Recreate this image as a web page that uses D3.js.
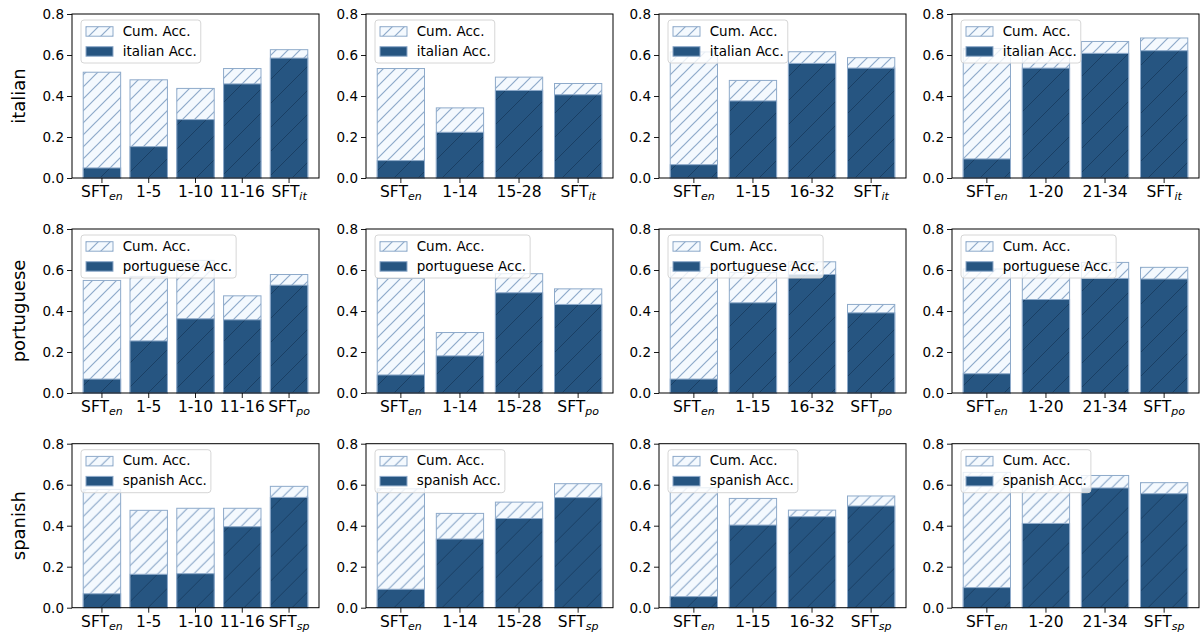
<!DOCTYPE html>
<html>
<head>
<meta charset="utf-8">
<script src="https://cdn.jsdelivr.net/npm/d3@7"></script>
<style>
  body { margin: 0; background: #fff; }
  svg { display: block; font-family: "DejaVu Sans", sans-serif; }
</style>
</head>
<body>
<div class="chart"></div>
<script>
// languages (rows) and their SFT subscripts
const languages = ["italian", "portuguese", "spanish"];
const langSubs = ["it", "po", "sp"];

// x categories for each column; "SFT_x" is replaced by the row language
const columnCats = [
  ["SFT_en", "1-5", "1-10", "11-16", "SFT_x"],
  ["SFT_en", "1-14", "15-28", "SFT_x"],
  ["SFT_en", "1-15", "16-32", "SFT_x"],
  ["SFT_en", "1-20", "21-34", "SFT_x"]
];

// cumulative accuracy (hatched, light) per column
const italianCum    = [[0.516, 0.479, 0.437, 0.534, 0.626], [0.534, 0.342, 0.492, 0.461], [0.615, 0.476, 0.616, 0.587], [0.632, 0.610, 0.666, 0.683]];
const portugueseCum = [[0.549, 0.569, 0.647, 0.474, 0.578], [0.559, 0.295, 0.582, 0.508], [0.613, 0.588, 0.640, 0.432], [0.605, 0.600, 0.637, 0.613]];
const spanishCum    = [[0.577, 0.475, 0.485, 0.485, 0.592], [0.580, 0.460, 0.515, 0.605], [0.585, 0.533, 0.476, 0.545], [0.660, 0.600, 0.645, 0.610]];

// language accuracy (dark) per column
const italianAcc    = [[0.049, 0.153, 0.285, 0.459, 0.585], [0.085, 0.223, 0.427, 0.406], [0.065, 0.376, 0.559, 0.536], [0.093, 0.536, 0.608, 0.621]];
const portugueseAcc = [[0.068, 0.254, 0.362, 0.357, 0.526], [0.088, 0.181, 0.489, 0.432], [0.068, 0.440, 0.578, 0.391], [0.094, 0.456, 0.559, 0.556]];
const spanishAcc    = [[0.068, 0.163, 0.166, 0.395, 0.538], [0.090, 0.335, 0.435, 0.537], [0.054, 0.403, 0.444, 0.496], [0.098, 0.411, 0.584, 0.556]];

const cumData = [italianCum, portugueseCum, spanishCum];
const accData = [italianAcc, portugueseAcc, spanishAcc];

const yTicks = [0, 0.2, 0.4, 0.6, 0.8];

// layout
const W = 1200, H = 638;
const colLeft = [72, 366, 659, 952];
const rowTop = [14, 229, 443.7];
const pw = 247, ph = 164;

const cumFill = "#f4f9fe", edgeCol = "#8eaaca", darkFill = "#265581";

const svg = d3.select(".chart").append("svg")
  .attr("width", W).attr("height", H);

// hatch patterns
const defs = svg.append("defs");
function hatch(id, size, bg, line, lw) {
  const p = defs.append("pattern").attr("id", id)
    .attr("patternUnits", "userSpaceOnUse")
    .attr("width", size).attr("height", size);
  p.append("rect").attr("width", size).attr("height", size).attr("fill", bg);
  p.append("path")
    .attr("d", `M0,${size} L${size},0 M${-size / 4},${size / 4} L${size / 4},${-size / 4} M${size * 3 / 4},${size * 5 / 4} L${size * 5 / 4},${size * 3 / 4}`)
    .attr("stroke", line).attr("stroke-width", lw).attr("fill", "none");
}
hatch("hCum", 12, cumFill, edgeCol, 1.2);
hatch("hAcc", 24, darkFill, "#1a3f64", 1);

const y = d3.scaleLinear().domain([0, 0.8]).range([ph, 0]);

function catLabel(sel, d, sub) {
  const lab = d === "SFT_x" ? "SFT_" + sub : d;
  const parts = lab.split("_");
  sel.text(null);
  sel.append("tspan").text(parts[0]);
  if (parts.length > 1) {
    sel.append("tspan").attr("font-style", "italic").attr("font-size", 11)
      .attr("dy", 3).text(parts[1]);
  }
}

languages.forEach((lang, r) => {
  // row label
  svg.append("text")
    .attr("transform", `translate(19,${rowTop[r] + ph / 2}) rotate(-90)`)
    .attr("text-anchor", "middle").attr("dy", "0.35em")
    .attr("font-size", 18).attr("fill", "#000")
    .text(lang);

  columnCats.forEach((cats, c) => {
    const n = cats.length;
    const g = svg.append("g").attr("transform", `translate(${colLeft[c]},${rowTop[r]})`);
    const x = d3.scaleBand().domain(d3.range(n)).range([0, pw])
      .paddingInner(0.2).paddingOuter(0.05 * (n - 0.2));

    const cum = cumData[r][c], acc = accData[r][c];

    g.selectAll(".cum").data(cum).enter().append("rect")
      .attr("class", "cum")
      .attr("x", (d, i) => x(i)).attr("width", x.bandwidth())
      .attr("y", d => y(d)).attr("height", d => ph - y(d))
      .attr("fill", "url(#hCum)").attr("stroke", edgeCol).attr("stroke-width", 1);

    g.selectAll(".acc").data(acc).enter().append("rect")
      .attr("class", "acc")
      .attr("x", (d, i) => x(i)).attr("width", x.bandwidth())
      .attr("y", d => y(d)).attr("height", d => ph - y(d))
      .attr("fill", "url(#hAcc)").attr("stroke", edgeCol).attr("stroke-width", 1);

    // axes
    const yAxis = g.append("g")
      .call(d3.axisLeft(y).tickValues(yTicks).tickFormat(d3.format(".1f")).tickSize(5).tickPadding(3));
    yAxis.selectAll("text").attr("font-size", 13.5).attr("fill", "#000")
      .attr("font-family", "DejaVu Sans, sans-serif");

    const xAxis = g.append("g").attr("transform", `translate(0,${ph})`)
      .call(d3.axisBottom(x).tickSize(5).tickPadding(3).tickFormat(i => cats[i]));
    xAxis.selectAll("text").attr("font-size", 15.5).attr("fill", "#000")
      .attr("font-family", "DejaVu Sans, sans-serif")
      .each(function (i) { catLabel(d3.select(this), cats[i], langSubs[r]); });

    [yAxis, xAxis].forEach(a => {
      a.select(".domain").remove();
      a.selectAll("line").attr("stroke", "#000").attr("stroke-width", 0.9);
    });

    // frame
    g.append("rect").attr("width", pw).attr("height", ph)
      .attr("fill", "none").attr("stroke", "#000").attr("stroke-width", 1);

    // legend
    const lg = g.append("g").attr("transform", "translate(9,6)");
    const box = lg.append("rect").attr("height", 43).attr("rx", 3)
      .attr("fill", "#fff").attr("fill-opacity", 0.8)
      .attr("stroke", "#d6d6d6").attr("stroke-width", 1);
    const items = [
      { label: "Cum. Acc.", fill: "url(#hCum)" },
      { label: lang + " Acc.", fill: darkFill }
    ];
    let maxLen = 0;
    items.forEach((it, k) => {
      lg.append("rect").attr("x", 5).attr("y", 6.7 + 20 * k)
        .attr("width", 27).attr("height", 9.5)
        .attr("fill", it.fill).attr("stroke", edgeCol).attr("stroke-width", 1);
      const t = lg.append("text").attr("x", 41.7).attr("y", 15.8 + 20 * k)
        .attr("font-size", 13.5).attr("fill", "#000").text(it.label);
      maxLen = Math.max(maxLen, t.node().getComputedTextLength());
    });
    box.attr("width", 41.7 + maxLen + 4);
  });
});
</script>
</body>
</html>
